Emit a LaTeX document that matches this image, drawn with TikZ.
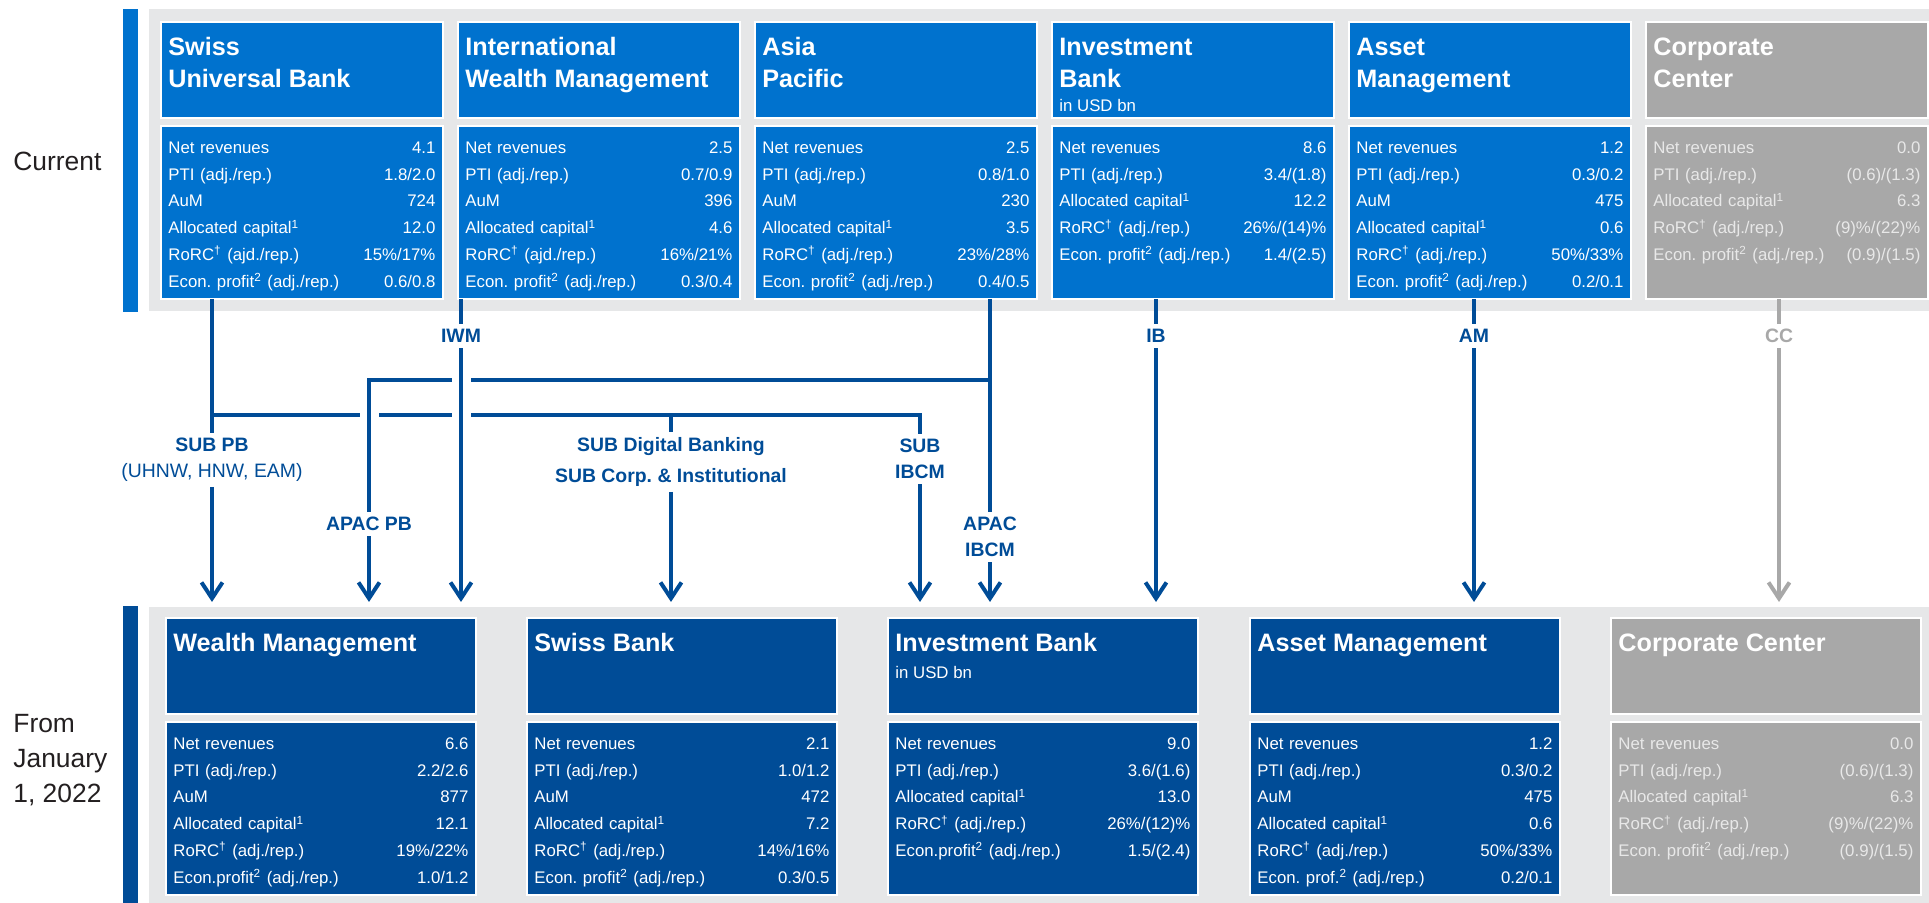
\documentclass[tikz,border=0pt]{standalone}
\usepackage{fontspec}
\setmainfont{Liberation Sans}
\usetikzlibrary{arrows.meta}
\usetikzlibrary{positioning}
\frenchspacing

\definecolor{csblue}{RGB}{0,114,206}
\definecolor{csnavy}{RGB}{0,76,151}
\definecolor{ccgray}{RGB}{168,168,168}
\definecolor{cctext}{RGB}{232,232,232}
\definecolor{panelgray}{RGB}{230,231,232}
\definecolor{sidetext}{RGB}{35,31,32}

% one line of a figures table: label left, value right
\newcommand{\kv}[2]{\strut#1\hfill#2}
\newcommand{\fnone}{\textsuperscript{1}}
\newcommand{\fntwo}{\textsuperscript{2}}
\newcommand{\fndag}{\textsuperscript{\textdagger}}

\tikzset{
  head/.style={anchor=north west, inner sep=0pt, outer sep=0pt, draw=white, line width=1pt, minimum height=48pt},
  body/.style={head, minimum height=86.5pt},
  cur/.style={minimum width=141pt, fill=csblue},
  new/.style={minimum width=155pt, fill=csnavy},
  ccbox/.style={fill=ccgray},
  ttl/.style={anchor=north west, inner sep=0pt, align=left, text=white, font=\fontsize{12.6}{16}\selectfont\bfseries},
  unit/.style={anchor=base west, inner sep=0pt, text=white, font=\fontsize{8.4}{10}\selectfont},
  figs/.style={anchor=north west, inner sep=0pt, align=left, text=white, font=\fontsize{8.4}{13.4}\selectfont},
  figscur/.style={figs, text width=133.5pt},
  figsnew/.style={figs, text width=147.5pt},
  link/.style={draw=csnavy, line width=2pt},
  bridge/.style={preaction={draw=white, line width=9.5pt}},
  tag/.style={text=csnavy, font=\fontsize{9.7}{12.8}\selectfont\bfseries, align=center, inner sep=2.5pt},
  side/.style={text=sidetext, font=\fontsize{13.2}{17.5}\selectfont, align=left, inner sep=0pt},
  >={Straight Barb[length=8pt,width=10.5pt]},
}

\begin{document}
\begin{tikzpicture}[x=0.5pt,y=-0.5pt]
\useasboundingbox (0,0) rectangle (1929,903);

% panels and side bars
\fill[panelgray] (149,9) rectangle (1929,311);
\fill[csblue] (123,9) rectangle (138,312);
\fill[panelgray] (149,607) rectangle (1929,903);
\fill[csnavy] (123,606) rectangle (138,903);

\node[side, anchor=base west] (cur-lbl) at (13,170.5) {Current};
\node[side, anchor=north west] (new-lbl) at (13,708) {\strut From\\January\\1, 2022};

% current divisions
\node[head,cur] (sub-h) at (161,22) {};
\node[body,cur] (sub-b) at (161,126) {};
\node[ttl] (sub-t) at ([shift={(7,10.6)}]sub-h.north west) {\strut Swiss\\Universal Bank};
\node[figscur] (sub-f) at ([shift={(7,8.2)}]sub-b.north west) {\kv{Net revenues}{4.1}\\
\kv{PTI (adj./rep.)}{1.8/2.0}\\
\kv{AuM}{724}\\
\kv{Allocated capital\fnone}{12.0}\\
\kv{RoRC\fndag\ (ajd./rep.)}{15\%/17\%}\\
\kv{Econ. profit\fntwo\ (adj./rep.)}{0.6/0.8}};

\node[head,cur] (iwm-h) at (458,22) {};
\node[body,cur] (iwm-b) at (458,126) {};
\node[ttl] (iwm-t) at ([shift={(7,10.6)}]iwm-h.north west) {\strut International\\Wealth Management};
\node[figscur] (iwm-f) at ([shift={(7,8.2)}]iwm-b.north west) {\kv{Net revenues}{2.5}\\
\kv{PTI (adj./rep.)}{0.7/0.9}\\
\kv{AuM}{396}\\
\kv{Allocated capital\fnone}{4.6}\\
\kv{RoRC\fndag\ (ajd./rep.)}{16\%/21\%}\\
\kv{Econ. profit\fntwo\ (adj./rep.)}{0.3/0.4}};

\node[head,cur] (apac-h) at (755,22) {};
\node[body,cur] (apac-b) at (755,126) {};
\node[ttl] (apac-t) at ([shift={(7,10.6)}]apac-h.north west) {\strut Asia\\Pacific};
\node[figscur] (apac-f) at ([shift={(7,8.2)}]apac-b.north west) {\kv{Net revenues}{2.5}\\
\kv{PTI (adj./rep.)}{0.8/1.0}\\
\kv{AuM}{230}\\
\kv{Allocated capital\fnone}{3.5}\\
\kv{RoRC\fndag\ (adj./rep.)}{23\%/28\%}\\
\kv{Econ. profit\fntwo\ (adj./rep.)}{0.4/0.5}};

\node[head,cur] (ib-h) at (1052,22) {};
\node[body,cur] (ib-b) at (1052,126) {};
\node[ttl] (ib-t) at ([shift={(7,10.6)}]ib-h.north west) {\strut Investment\\Bank};
\node[unit] (ib-u) at ([shift={(7,90)}]ib-h.north west) {in USD bn};
\node[figscur] (ib-f) at ([shift={(7,8.2)}]ib-b.north west) {\kv{Net revenues}{8.6}\\
\kv{PTI (adj./rep.)}{3.4/(1.8)}\\
\kv{Allocated capital\fnone}{12.2}\\
\kv{RoRC\fndag\ (adj./rep.)}{26\%/(14)\%}\\
\kv{Econ. profit\fntwo\ (adj./rep.)}{1.4/(2.5)}};

\node[head,cur] (am-h) at (1349,22) {};
\node[body,cur] (am-b) at (1349,126) {};
\node[ttl] (am-t) at ([shift={(7,10.6)}]am-h.north west) {\strut Asset\\Management};
\node[figscur] (am-f) at ([shift={(7,8.2)}]am-b.north west) {\kv{Net revenues}{1.2}\\
\kv{PTI (adj./rep.)}{0.3/0.2}\\
\kv{AuM}{475}\\
\kv{Allocated capital\fnone}{0.6}\\
\kv{RoRC\fndag\ (adj./rep.)}{50\%/33\%}\\
\kv{Econ. profit\fntwo\ (adj./rep.)}{0.2/0.1}};

\node[head,cur,ccbox] (cc-h) at (1646,22) {};
\node[body,cur,ccbox] (cc-b) at (1646,126) {};
\node[ttl] (cc-t) at ([shift={(7,10.6)}]cc-h.north west) {\strut Corporate\\Center};
\node[figscur,text=cctext] (cc-f) at ([shift={(7,8.2)}]cc-b.north west) {\kv{Net revenues}{0.0}\\
\kv{PTI (adj./rep.)}{(0.6)/(1.3)}\\
\kv{Allocated capital\fnone}{6.3}\\
\kv{RoRC\fndag\ (adj./rep.)}{(9)\%/(22)\%}\\
\kv{Econ. profit\fntwo\ (adj./rep.)}{(0.9)/(1.5)}};

% divisions from 2022
\node[head,new] (wm-h) at (166,618) {};
\node[body,new] (wm-b) at (166,722) {};
\node[ttl] (wm-t) at ([shift={(7,10.6)}]wm-h.north west) {\strut Wealth Management};
\node[figsnew] (wm-f) at ([shift={(7,8.2)}]wm-b.north west) {\kv{Net revenues}{6.6}\\
\kv{PTI (adj./rep.)}{2.2/2.6}\\
\kv{AuM}{877}\\
\kv{Allocated capital\fnone}{12.1}\\
\kv{RoRC\fndag\ (adj./rep.)}{19\%/22\%}\\
\kv{Econ.profit\fntwo\ (adj./rep.)}{1.0/1.2}};

\node[head,new] (sb-h) at (527,618) {};
\node[body,new] (sb-b) at (527,722) {};
\node[ttl] (sb-t) at ([shift={(7,10.6)}]sb-h.north west) {\strut Swiss Bank};
\node[figsnew] (sb-f) at ([shift={(7,8.2)}]sb-b.north west) {\kv{Net revenues}{2.1}\\
\kv{PTI (adj./rep.)}{1.0/1.2}\\
\kv{AuM}{472}\\
\kv{Allocated capital\fnone}{7.2}\\
\kv{RoRC\fndag\ (adj./rep.)}{14\%/16\%}\\
\kv{Econ. profit\fntwo\ (adj./rep.)}{0.3/0.5}};

\node[head,new] (nib-h) at (888,618) {};
\node[body,new] (nib-b) at (888,722) {};
\node[ttl] (nib-t) at ([shift={(7,10.6)}]nib-h.north west) {\strut Investment Bank};
\node[unit] (nib-u) at ([shift={(7,60)}]nib-h.north west) {in USD bn};
\node[figsnew] (nib-f) at ([shift={(7,8.2)}]nib-b.north west) {\kv{Net revenues}{9.0}\\
\kv{PTI (adj./rep.)}{3.6/(1.6)}\\
\kv{Allocated capital\fnone}{13.0}\\
\kv{RoRC\fndag\ (adj./rep.)}{26\%/(12)\%}\\
\kv{Econ.profit\fntwo\ (adj./rep.)}{1.5/(2.4)}};

\node[head,new] (nam-h) at (1250,618) {};
\node[body,new] (nam-b) at (1250,722) {};
\node[ttl] (nam-t) at ([shift={(7,10.6)}]nam-h.north west) {\strut Asset Management};
\node[figsnew] (nam-f) at ([shift={(7,8.2)}]nam-b.north west) {\kv{Net revenues}{1.2}\\
\kv{PTI (adj./rep.)}{0.3/0.2}\\
\kv{AuM}{475}\\
\kv{Allocated capital\fnone}{0.6}\\
\kv{RoRC\fndag\ (adj./rep.)}{50\%/33\%}\\
\kv{Econ. prof.\fntwo\ (adj./rep.)}{0.2/0.1}};

\node[head,new,ccbox] (ncc-h) at (1611,618) {};
\node[body,new,ccbox] (ncc-b) at (1611,722) {};
\node[ttl] (ncc-t) at ([shift={(7,10.6)}]ncc-h.north west) {\strut Corporate Center};
\node[figsnew,text=cctext] (ncc-f) at ([shift={(7,8.2)}]ncc-b.north west) {\kv{Net revenues}{0.0}\\
\kv{PTI (adj./rep.)}{(0.6)/(1.3)}\\
\kv{Allocated capital\fnone}{6.3}\\
\kv{RoRC\fndag\ (adj./rep.)}{(9)\%/(22)\%}\\
\kv{Econ. profit\fntwo\ (adj./rep.)}{(0.9)/(1.5)}};

% where the flows leave, split and arrive
\coordinate (sub-o) at (212,299);
\coordinate (iwm-o) at (461,299);
\coordinate (apac-o) at (990,299);
\coordinate (ib-o) at (1156,299);
\coordinate (am-o) at (1474,299);
\coordinate (cc-o) at (1779,299);
\coordinate (sub-j) at (212,415);
\coordinate (sdb-j) at (671,415);
\coordinate (sib-k) at (920,415);
\coordinate (apac-j) at (990,380);
\coordinate (apb-k) at (369,380);
\coordinate (iwm-k) at (461,440);
\coordinate (wm-i1) at (212,602);
\coordinate (wm-i2) at (369,602);
\coordinate (wm-i3) at (461,602);
\coordinate (sb-i) at (671,602);
\coordinate (nib-i1) at (920,602);
\coordinate (nib-i2) at (990,602);
\coordinate (nib-i3) at (1156,602);
\coordinate (nam-i) at (1474,602);
\coordinate (ncc-i) at (1779,602);

\node[tag] (l-iwm) at (461,336) {IWM};
\node[tag] (l-ib) at (1156,336) {IB};
\node[tag] (l-am) at (1474,336) {AM};
\node[tag, text=ccgray] (l-cc) at (1779,336) {CC};
\node[tag] (l-subpb) at (212,460) {SUB PB\\\mdseries(UHNW, HNW, EAM)};
\node[tag, font=\fontsize{9.7}{15.5}\selectfont\bfseries] (l-subdb) at (671,462) {SUB Digital Banking\\SUB Corp. \& Institutional};
\node[tag] (l-subib) at (920,459) {SUB\\IBCM};
\node[tag] (l-apacpb) at (369,524) {APAC PB};
\node[tag] (l-apacib) at (990,537) {APAC\\IBCM};

\draw[link] (sub-o) -- (l-subpb);
\draw[link,->] (l-subpb) -- (wm-i1);
\draw[link] (sub-j) -- (sib-k) -- (l-subib);
\draw[link,->] (l-subib) -- (nib-i1);
\draw[link] (sdb-j) -- (l-subdb);
\draw[link,->] (l-subdb) -- (sb-i);
\draw[link,bridge] (apac-j) -- (apb-k) -- (l-apacpb);
\draw[link,->] (l-apacpb) -- (wm-i2);
\draw[link] (apac-o) -- (l-apacib);
\draw[link,->] (l-apacib) -- (nib-i2);
\draw[link] (iwm-o) -- (l-iwm);
\draw[link,bridge] (l-iwm) -- (iwm-k);
\draw[link,->] (iwm-k) -- (wm-i3);
\draw[link] (ib-o) -- (l-ib);
\draw[link,->] (l-ib) -- (nib-i3);
\draw[link] (am-o) -- (l-am);
\draw[link,->] (l-am) -- (nam-i);
\draw[link,draw=ccgray] (cc-o) -- (l-cc);
\draw[link,draw=ccgray,->] (l-cc) -- (ncc-i);
\end{tikzpicture}
\end{document}
